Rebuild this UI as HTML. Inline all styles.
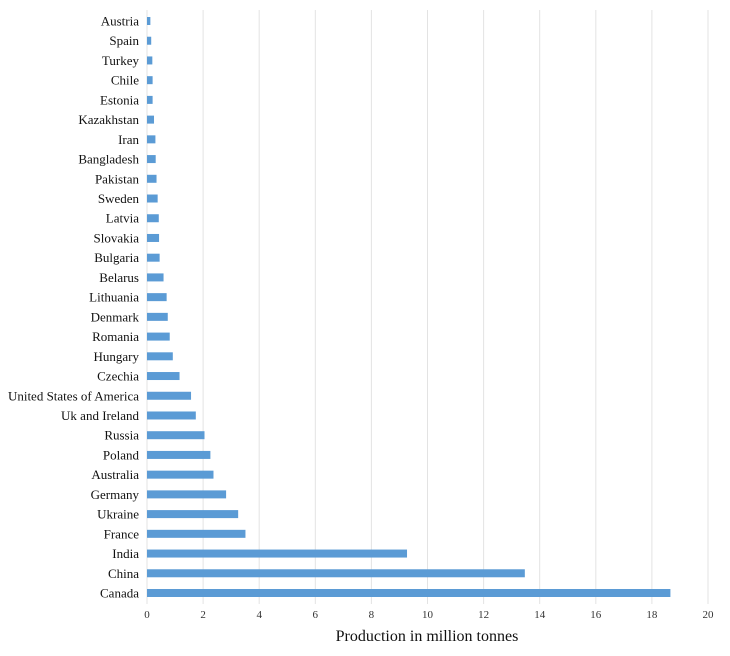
<!DOCTYPE html>
<html><head><meta charset="utf-8"><style>
body{margin:0;background:#fff;}
svg{display:block;font-family:"Liberation Serif",serif;}
</style></head><body>
<svg id="chart" width="730" height="656"></svg>
<script>
const categories=["Austria","Spain","Turkey","Chile","Estonia","Kazakhstan","Iran","Bangladesh","Pakistan","Sweden","Latvia","Slovakia","Bulgaria","Belarus","Lithuania","Denmark","Romania","Hungary","Czechia","United States of America","Uk and Ireland","Russia","Poland","Australia","Germany","Ukraine","France","India","China","Canada"];
const values=[0.12,0.15,0.19,0.2,0.2,0.25,0.3,0.31,0.34,0.38,0.42,0.43,0.45,0.59,0.7,0.74,0.81,0.92,1.16,1.57,1.74,2.05,2.26,2.37,2.82,3.25,3.51,9.27,13.47,18.66];
const tickLabels=[0,2,4,6,8,10,12,14,16,18,20];
const svg=document.getElementById('chart');
const NS='http://www.w3.org/2000/svg';
const x0=147,x1=708,xmax=20;
const xs=v=>x0+(v/xmax)*(x1-x0);
const yTop=21,yBot=593;
const step=(yBot-yTop)/(categories.length-1);
const ys=i=>yTop+i*step;
function mk(tag,attrs){const e=document.createElementNS(NS,tag);for(const k in attrs)e.setAttribute(k,attrs[k]);svg.appendChild(e);return e;}
tickLabels.forEach(t=>{
  const g=mk('line',{x1:xs(t),x2:xs(t),y1:10,y2:604,stroke:'#e3e3e3','stroke-width':1});
  
  
  const tx=mk('text',{x:xs(t),y:618,'text-anchor':'middle','font-size':11,fill:'#333'});
  tx.textContent=t;
  
  
});
categories.forEach((c,i)=>{
  const r=mk('rect',{x:x0,y:ys(i)-4,width:xs(values[i])-x0,height:8,fill:'#5b9bd5'});
  
  
  const t=mk('text',{x:139,y:ys(i)+4.5,'text-anchor':'end','font-size':13,fill:'#111'});
  t.textContent=c;
  
  
});
const title=mk('text',{x:427,y:641,'text-anchor':'middle','font-size':16,fill:'#111'});
title.textContent='Production in million tonnes';


</script>
</body></html>
